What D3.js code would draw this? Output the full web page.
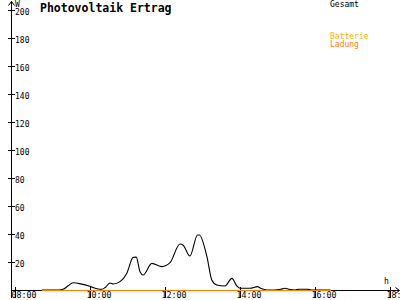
<!DOCTYPE html>
<html>
<head>
<meta charset="utf-8">
<script src="https://cdn.jsdelivr.net/npm/d3@7"></script>
<style>
  body { margin: 0; background: #fff; }
  text { font-family: "DejaVu Sans Mono", monospace; }
</style>
</head>
<body>
<div id="chart"></div>
<script>
// Gesamt (black) series
const gesamtTimes = ["08:43","09:10","09:17","09:25","09:33","09:47","10:00","10:13","10:19","10:25",
  "10:32","10:37","10:48","10:59","11:09","11:14","11:20","11:25","11:39","11:55",
  "12:08","12:24","12:29","12:40","12:52","12:55","13:07","13:15","13:23","13:36",
  "13:47","13:55","14:00","14:16","14:28","14:34","14:43","14:55","15:05","15:12",
  "15:18","15:28","15:34","15:48","15:54","16:25"];
const gesamtValues = [0,0,0.5,3,5.2,4.2,2.6,0.7,0.5,2,
  5,4.3,6,12,23.3,23.5,13,10.7,19,16.7,
  19.5,32.9,32,24.3,39.3,39.3,24,7,3.6,2.9,
  8.3,2.9,1.2,1.2,2.4,1,0,0,0.5,1.2,
  0.5,0,0.5,0.5,0,0];
// Ladung (orange) series
const ladungTimes = ["08:43","16:25"];
const ladungValues = [0,0];
const yTicks = [20,40,60,80,100,120,140,160,180,200];
const xTicks = ["08:00","10:00","12:00","14:00","16:00","18:00"];

const width = 400, height = 300;
const toHour = s => { const [h, m] = s.split(":").map(Number); return h + m / 60; };

const x = d3.scaleLinear().domain([8, 18]).range([15, 390]);
const y = d3.scaleLinear().domain([0, 200]).range([290, 10]);

const svg = d3.select("#chart").append("svg")
  .attr("width", width).attr("height", height)
  .style("display", "block")
  .attr("shape-rendering", "crispEdges");

// y axis
svg.append("line").attr("x1", 11.5).attr("x2", 11.5).attr("y1", 1).attr("y2", 298).attr("stroke", "#000");
svg.append("path").attr("d", "M8.5,5.5 L11.5,1.5 L14.5,5.5").attr("fill", "none").attr("stroke", "#000").attr("shape-rendering", "auto");
svg.append("text").attr("x", 15).attr("y", 7).attr("font-size", "8px").text("W");
const yt = svg.selectAll("g.yt").data(yTicks).join("g").attr("class", "yt")
  .attr("transform", d => `translate(0,${Math.round(y(d)) + 0.5})`);
yt.append("line").attr("x1", 8).attr("x2", 15).attr("stroke", "#000");
yt.append("text").attr("x", 15).attr("y", 4).attr("font-size", "8px").text(d => d);

// x axis
svg.append("line").attr("x1", 11).attr("x2", 399).attr("y1", 290.5).attr("y2", 290.5).attr("stroke", "#000");
svg.append("path").attr("d", "M395.5,287.5 L399.5,290.5 L395.5,293.5").attr("fill", "none").attr("stroke", "#000").attr("shape-rendering", "auto");
const xt = svg.selectAll("g.xt").data(xTicks).join("g").attr("class", "xt")
  .attr("transform", d => `translate(${Math.round(x(toHour(d))) + 0.5},0)`);
xt.append("line").attr("y1", 287).attr("y2", 298).attr("stroke", "#000");
xt.append("text").attr("x", -4).attr("y", 297.5).attr("font-size", "8.3px").text(d => d);
svg.append("text").attr("x", 384).attr("y", 284).attr("font-size", "8px").text("h");

// series
const line = d3.line()
  .x(d => x(toHour(d[0])))
  .y(d => y(d[1]))
  .curve(d3.curveMonotoneX);

svg.append("path")
  .datum(d3.zip(gesamtTimes, gesamtValues))
  .attr("d", line)
  .attr("fill", "none").attr("stroke", "#000").attr("stroke-width", 1.1)
  .attr("shape-rendering", "auto");

svg.append("path")
  .datum(d3.zip(ladungTimes, ladungValues))
  .attr("d", d3.line().x(d => x(toHour(d[0]))).y(d => y(d[1]) + 0.5))
  .attr("fill", "none").attr("stroke", "#ff7f00").attr("stroke-width", 1.3);

// title
svg.append("text").attr("x", 40).attr("y", 12)
  .attr("font-size", "11.5px").attr("font-weight", "bold").text("Photovoltaik Ertrag");

// legend
const legend = [
  {t: "Gesamt", c: "#000", yy: 7},
  {t: "Batterie", c: "#ffb000", yy: 39},
  {t: "Ladung", c: "#ff7f00", yy: 47}
];
svg.selectAll("text.lg").data(legend).join("text").attr("class", "lg")
  .attr("x", 330).attr("y", d => d.yy).attr("font-size", "8px")
  .attr("fill", d => d.c).text(d => d.t);
</script>
</body>
</html>
